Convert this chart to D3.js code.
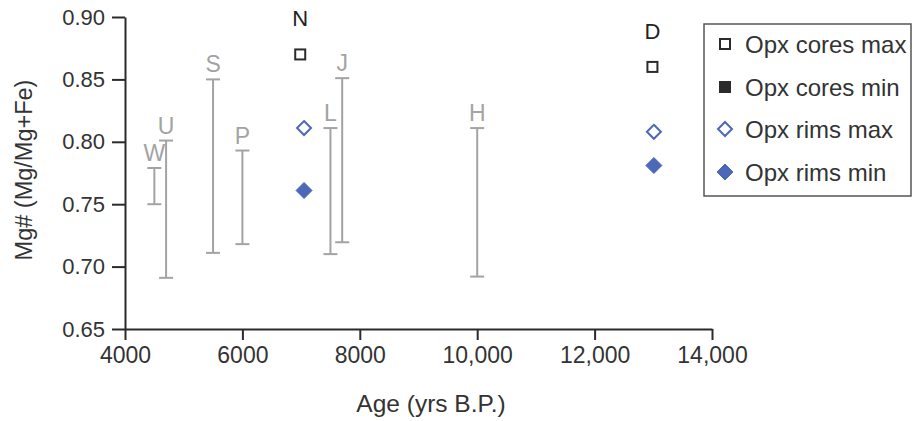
<!DOCTYPE html>
<html>
<head>
<meta charset="utf-8">
<script src="https://cdn.jsdelivr.net/npm/d3@7/dist/d3.min.js"></script>
<style>
  html, body { margin: 0; padding: 0; background: #fff; }
  svg { display: block; font-family: "Liberation Sans", Arial, sans-serif; }
</style>
</head>
<body>
<svg id="chart" width="914" height="421"></svg>
<script>
// Whole-rock Mg# ranges by site (vertical bars)
const rangeLabels = ["W", "U", "S", "P", "L", "J", "H"];
const rangeAges   = [4500, 4700, 5500, 6000, 7500, 7700, 10000];
const rangeMin    = [0.750, 0.691, 0.711, 0.718, 0.710, 0.7195, 0.692];
const rangeMax    = [0.779, 0.801, 0.850, 0.793, 0.811, 0.851, 0.811];

// Orthopyroxene analyses for samples N and D
const pointLabels = ["N", "D"];
const coreAges    = [6985, 12985];
const coresMax    = [0.870, 0.860];
const coresMin    = [null, null];
const rimAges     = [7050, 13010];
const rimsMax     = [0.811, 0.808];
const rimsMin     = [0.761, 0.781];

// Axis ticks
const xTicks = [4000, 6000, 8000, 10000, 12000, 14000];
const xTickLabels = ["4000", "6000", "8000", "10,000", "12,000", "14,000"];
const yTicks = [0.65, 0.70, 0.75, 0.80, 0.85, 0.90];

const legendItems = ["Opx cores max", "Opx cores min", "Opx rims max", "Opx rims min"];

const blue = "#4d68b8";
const grey = "#a3a3a3";
const ink = "#2b2b2b";

const svg = d3.select("#chart");
const x = d3.scaleLinear().domain([4000, 14000]).range([125, 712]);
const y = d3.scaleLinear().domain([0.65, 0.90]).range([329, 17]);

// Axes
const xAxis = svg.append("g").attr("transform", `translate(0,${y(0.65)})`)
  .call(d3.axisBottom(x).tickValues(xTicks).tickFormat((d, i) => xTickLabels[i])
    .tickSizeInner(11).tickSizeOuter(0).tickPadding(7));
const yAxis = svg.append("g").attr("transform", `translate(${x(4000)},0)`)
  .call(d3.axisLeft(y).tickValues(yTicks).tickFormat(d3.format(".2f"))
    .tickSizeInner(13).tickSizeOuter(0).tickPadding(7));
[xAxis, yAxis].forEach(g => {
  g.select(".domain").attr("stroke", ink).attr("stroke-width", 2);
  g.selectAll(".tick line").attr("stroke", ink).attr("stroke-width", 2);
  g.selectAll(".tick text").attr("fill", "#333")
    .attr("font-family", "Liberation Sans, Arial, sans-serif");
});
xAxis.selectAll(".tick text").attr("font-size", 23);
yAxis.selectAll(".tick text").attr("font-size", 22);

// Axis titles
svg.append("text").attr("x", 431).attr("y", 412).attr("text-anchor", "middle")
  .attr("font-size", 24.5).attr("fill", "#333").text("Age (yrs B.P.)");
svg.append("text").attr("transform", `translate(32,170) rotate(-90)`)
  .attr("text-anchor", "middle").attr("font-size", 23.5).attr("fill", "#333")
  .text("Mg# (Mg/Mg+Fe)");

// Range bars with caps and site letters
const ranges = rangeLabels.map((l, i) => ({ l, a: rangeAges[i], lo: rangeMin[i], hi: rangeMax[i] }));
const rg = svg.append("g").attr("stroke", grey).attr("stroke-width", 2);
ranges.forEach(r => {
  rg.append("line").attr("x1", x(r.a)).attr("x2", x(r.a)).attr("y1", y(r.lo)).attr("y2", y(r.hi));
  [r.lo, r.hi].forEach(v => rg.append("line")
    .attr("x1", x(r.a) - 7).attr("x2", x(r.a) + 7).attr("y1", y(v)).attr("y2", y(v)));
});
svg.append("g").selectAll("text").data(ranges).join("text")
  .attr("x", d => x(d.a)).attr("y", d => y(d.hi) - 7).attr("text-anchor", "middle")
  .attr("font-size", 23).attr("fill", grey).text(d => d.l);

// Symbols
const sqOpen = (g, cx, cy, s) => g.append("rect").attr("x", cx - s / 2).attr("y", cy - s / 2)
  .attr("width", s).attr("height", s).attr("fill", "#fff").attr("stroke", ink).attr("stroke-width", 2);
const sqFill = (g, cx, cy, s) => g.append("rect").attr("x", cx - s / 2).attr("y", cy - s / 2)
  .attr("width", s).attr("height", s).attr("fill", ink);
const diamond = (g, cx, cy, r, filled) => g.append("path")
  .attr("d", `M${cx},${cy - r}L${cx + r},${cy}L${cx},${cy + r}L${cx - r},${cy}Z`)
  .attr("fill", filled ? blue : "#fff").attr("stroke", blue).attr("stroke-width", filled ? 1 : 2);

const pg = svg.append("g");
pointLabels.forEach((l, i) => {
  if (coresMin[i] != null) sqFill(pg, x(coreAges[i]), y(coresMin[i]), 12);
  if (coresMax[i] != null) sqOpen(pg, x(coreAges[i]), y(coresMax[i]), 10);
  diamond(pg, x(rimAges[i]), y(rimsMax[i]), 7, false);
  diamond(pg, x(rimAges[i]), y(rimsMin[i]), 8, true);
  pg.append("text").attr("x", x(coreAges[i])).attr("y", y(coresMax[i]) - 28)
    .attr("text-anchor", "middle").attr("font-size", 22).attr("fill", "#222").text(l);
});

// Legend
const lg = svg.append("g");
lg.append("rect").attr("x", 704).attr("y", 24).attr("width", 207).attr("height", 172)
  .attr("fill", "#fff").attr("stroke", "#555").attr("stroke-width", 1.5);
const rowY = [44, 87, 129, 172];
legendItems.forEach((t, i) => {
  const cx = 725, cy = rowY[i];
  if (i === 0) sqOpen(lg, cx, cy, 10);
  if (i === 1) sqFill(lg, cx, cy, 12);
  if (i === 2) diamond(lg, cx, cy, 7, false);
  if (i === 3) diamond(lg, cx, cy, 8, true);
  lg.append("text").attr("x", 745).attr("y", cy + 9).attr("font-size", 24)
    .attr("fill", "#333").text(t);
});
</script>
</body>
</html>
